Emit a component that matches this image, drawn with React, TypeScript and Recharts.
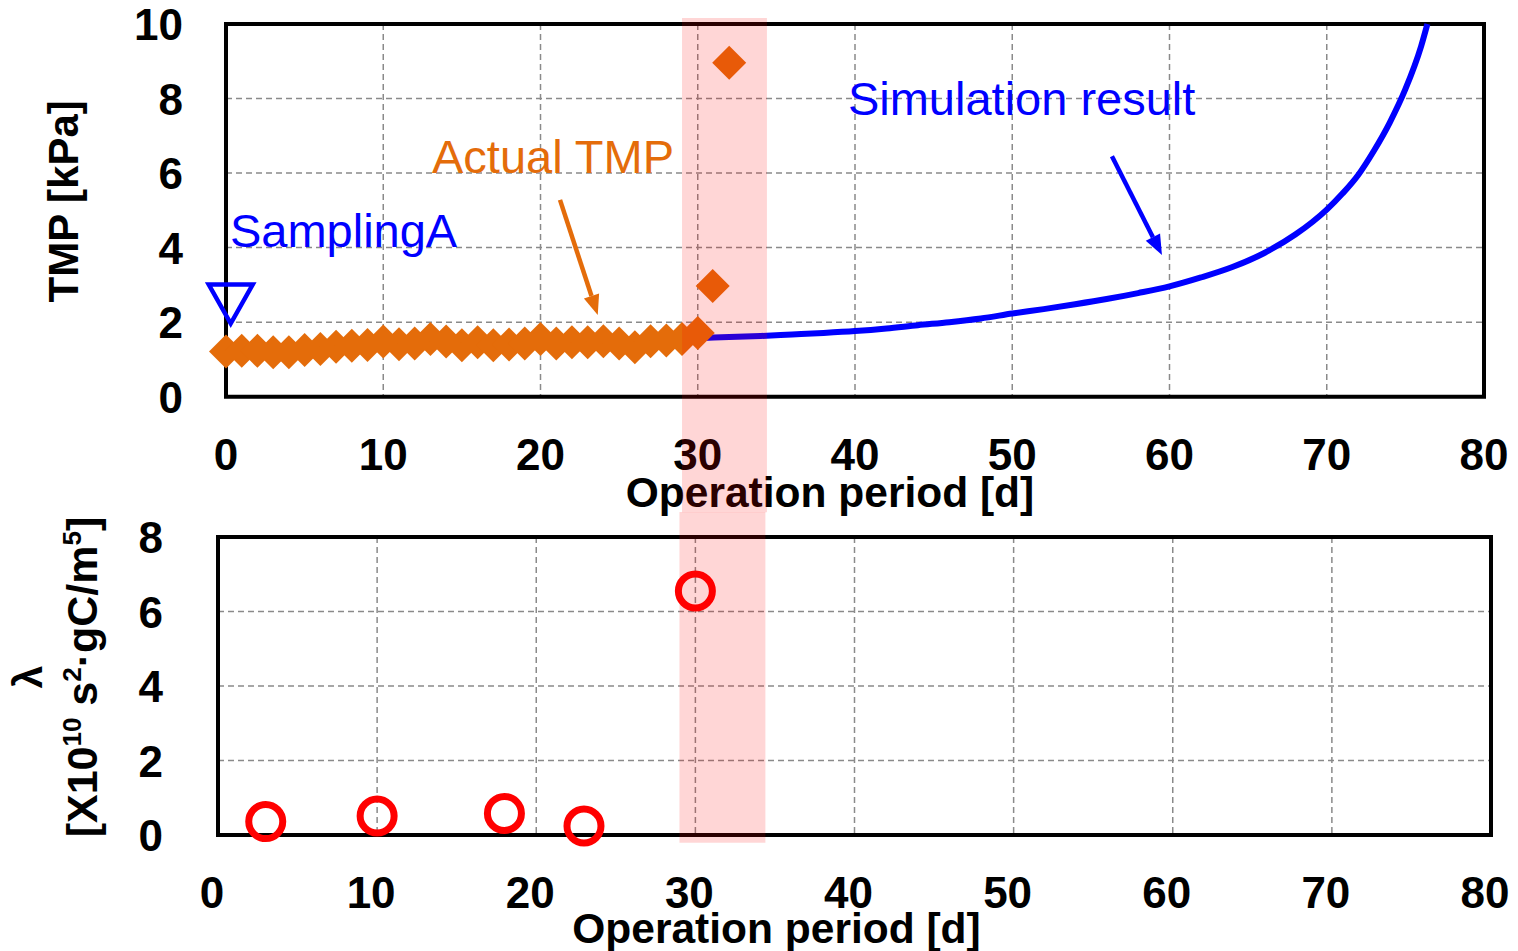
import React from 'react';
import {
  ComposedChart,
  Line,
  Scatter,
  XAxis,
  YAxis,
  CartesianGrid,
  ReferenceArea,
  ReferenceDot,
  ReferenceLine,
  Label,
} from 'recharts';

const FONT = '"Liberation Sans", Arial, sans-serif';

const TICKS_X = [0, 10, 20, 30, 40, 50, 60, 70, 80];
const TICKS_TMP = [0, 2, 4, 6, 8, 10];
const TICKS_LAMBDA = [0, 2, 4, 6, 8];

// measured TMP (orange diamonds)
const ACTUAL_DAYS = [
  0, 1, 2, 3, 4, 5, 6, 7, 8, 9, 10, 11, 12, 13, 14, 15, 16, 17, 18, 19, 20,
  21, 22, 23, 24, 25, 26, 27, 28, 29, 30, 30.95, 32,
];
const ACTUAL_TMP = [
  1.21, 1.23, 1.23, 1.19, 1.19, 1.25, 1.28, 1.34, 1.37, 1.39, 1.48, 1.41, 1.43,
  1.55, 1.48, 1.38, 1.46, 1.38, 1.4, 1.43, 1.55, 1.43, 1.46, 1.46, 1.49, 1.43,
  1.33, 1.49, 1.51, 1.55, 1.71, 2.97, 8.96,
];

// simulation curve (blue)
const SIM_DAYS = [
  30, 32, 34, 36, 38, 40, 42, 44, 46, 48, 50, 52, 54, 56, 58, 60, 62, 64, 66,
  68, 70, 71, 72, 73, 74, 75, 76, 76.4,
];
const SIM_TMP = [
  1.57, 1.6, 1.63, 1.67, 1.71, 1.76, 1.83, 1.92, 2.0, 2.1, 2.23, 2.35, 2.48,
  2.62, 2.78, 2.96, 3.2, 3.48, 3.85, 4.35, 5.02, 5.45, 5.95, 6.6, 7.35, 8.25,
  9.4, 10.0,
];

// sampling A marker
const SAMPLING_DAY = [0.3];
const SAMPLING_TMP = [2.5];

// lambda (red circles)
const LAMBDA_DAYS = [3, 10, 18, 23, 30];
const LAMBDA_VALUES = [0.36, 0.51, 0.58, 0.24, 6.55];

// highlighted period
const BAND_START = 29;
const BAND_END = 34.4;

const actualData = ACTUAL_DAYS.map((x, i) => ({ x, y: ACTUAL_TMP[i] }));
const simData = SIM_DAYS.map((x, i) => ({ x, y: SIM_TMP[i] }));
const samplingData = SAMPLING_DAY.map((x, i) => ({ x, y: SAMPLING_TMP[i] }));
const lambdaData = LAMBDA_DAYS.map((x, i) => ({ x, y: LAMBDA_VALUES[i] }));

const ORANGE = '#E46C0A';
const BLUE = '#0000FF';
const RED = '#FF0000';
const GRID = '#8a8a8a';

const Diamond = (p: any) => {
  const { cx, cy } = p;
  const r = 17;
  return (
    <polygon
      points={`${cx},${cy - r} ${cx + r},${cy} ${cx},${cy + r} ${cx - r},${cy}`}
      fill={ORANGE}
    />
  );
};

const DownTriangle = (p: any) => {
  const { cx, cy } = p;
  return (
    <polygon
      points={`${cx - 22},${cy - 19} ${cx + 22},${cy - 19} ${cx},${cy + 20}`}
      fill="none"
      stroke={BLUE}
      strokeWidth={4.5}
      strokeLinejoin="miter"
    />
  );
};

const OpenCircle = (p: any) => (
  <circle cx={p.cx} cy={p.cy} r={17} fill="none" stroke={RED} strokeWidth={7} />
);

const arrow = (color: string) => (p: any) => {
  const { x1, y1, x2, y2 } = p;
  const a = Math.atan2(y2 - y1, x2 - x1);
  const len = 20;
  const half = 8;
  const bx = x2 - len * Math.cos(a);
  const by = y2 - len * Math.sin(a);
  return (
    <g>
      <line x1={x1} y1={y1} x2={bx} y2={by} stroke={color} strokeWidth={4.5} />
      <polygon
        points={`${x2},${y2} ${bx - half * Math.sin(a)},${by + half * Math.cos(a)} ${bx + half * Math.sin(a)},${by - half * Math.cos(a)}`}
        fill={color}
      />
    </g>
  );
};

const note = (text: string, color: string) => (p: any) => (
  <text x={p.cx} y={p.cy} fill={color} fontSize={47} fontFamily={FONT}>
    {text}
  </text>
);

const xTick = (dx: number) => (p: any) => (
  <text
    x={p.x + dx}
    y={p.y + 73}
    textAnchor="middle"
    fontSize={44}
    fontWeight="bold"
    fontFamily={FONT}
    fill="#000"
  >
    {p.payload.value}
  </text>
);

const yTick = (gap: number) => (p: any) => (
  <text
    x={p.x - gap}
    y={p.y + 16}
    textAnchor="end"
    fontSize={44}
    fontWeight="bold"
    fontFamily={FONT}
    fill="#000"
  >
    {p.payload.value}
  </text>
);

const xTitle = (dx: number, dy: number) => (p: any) => {
  const vb = p.viewBox;
  return (
    <text
      x={vb.x + vb.width / 2 + dx}
      y={vb.y + dy}
      textAnchor="middle"
      fontSize={42.5}
      fontWeight="bold"
      fontFamily={FONT}
      fill="#000"
    >
      Operation period [d]
    </text>
  );
};

const TmpTitle = (p: any) => {
  const vb = p.viewBox;
  const x = vb.x + 78;
  const y = vb.y + vb.height / 2 - 9;
  return (
    <text
      x={x}
      y={y}
      transform={`rotate(-90 ${x} ${y})`}
      textAnchor="middle"
      fontSize={42}
      fontWeight="bold"
      fontFamily={FONT}
      fill="#000"
    >
      TMP [kPa]
    </text>
  );
};

const LambdaTitle = (p: any) => {
  const vb = p.viewBox;
  const cy = vb.y + vb.height / 2 - 9;
  const x1 = vb.x + 42;
  const x2 = vb.x + 97;
  return (
    <g fontFamily={FONT} fontWeight="bold" fill="#000">
      <text x={x1} y={cy} transform={`rotate(-90 ${x1} ${cy})`} textAnchor="middle" fontSize={41}>
        λ
      </text>
      <text x={x2} y={cy} transform={`rotate(-90 ${x2} ${cy})`} textAnchor="middle" fontSize={43}>
        [X10
        <tspan fontSize={26} dy={-16}>10</tspan>
        <tspan dy={16}> s</tspan>
        <tspan fontSize={26} dy={-16}>2</tspan>
        <tspan dy={16}>·gC/m</tspan>
        <tspan fontSize={26} dy={-16}>5</tspan>
        <tspan dy={16}>]</tspan>
      </text>
    </g>
  );
};

export default function App() {
  return (
    <div style={{ width: 1518, height: 951, overflow: 'hidden', background: '#fff', fontFamily: FONT }}>
      <style>{'body{margin:0} .recharts-surface{overflow:visible} .recharts-wrapper{overflow:visible}'}</style>
      <ComposedChart width={1518} height={520} margin={{ top: 24, right: 34, bottom: 0, left: 0 }}>
        <CartesianGrid stroke={GRID} strokeDasharray="6 4" strokeWidth={1.5} />
        <XAxis
          type="number"
          dataKey="x"
          domain={[0, 80]}
          ticks={TICKS_X}
          interval={0}
          height={123.3}
          axisLine={false}
          tickLine={false}
          tickSize={0}
          tickMargin={0}
          tick={xTick(0)}
        >
          <Label content={xTitle(-25, 110)} />
        </XAxis>
        <YAxis
          type="number"
          domain={[0, 10]}
          ticks={TICKS_TMP}
          interval={0}
          width={226}
          axisLine={false}
          tickLine={false}
          tickSize={0}
          tickMargin={0}
          tick={yTick(43)}
        >
          <Label content={TmpTitle} />
        </YAxis>
        <ReferenceArea x1={0} x2={80} y1={0} y2={10} fill="none" stroke="#000" strokeWidth={4} ifOverflow="visible" />
        <Line data={simData} dataKey="y" type="monotone" stroke={BLUE} strokeWidth={6} dot={false} isAnimationActive={false} />
        <Scatter data={actualData} dataKey="y" shape={Diamond} isAnimationActive={false} />
        <Scatter data={samplingData} dataKey="y" shape={DownTriangle} isAnimationActive={false} />
        <ReferenceDot x={39.55} y={7.55} r={0} shape={note('Simulation result', BLUE)} ifOverflow="visible" />
        <ReferenceDot x={13.1} y={6.0} r={0} shape={note('Actual TMP', ORANGE)} ifOverflow="visible" />
        <ReferenceDot x={0.25} y={4.02} r={0} shape={note('SamplingA', BLUE)} ifOverflow="visible" />
        <ReferenceLine segment={[{ x: 56.34, y: 6.45 }, { x: 59.52, y: 3.8 }]} shape={arrow(BLUE)} ifOverflow="visible" />
        <ReferenceLine segment={[{ x: 21.24, y: 5.28 }, { x: 23.64, y: 2.19 }]} shape={arrow(ORANGE)} ifOverflow="visible" />
        <ReferenceArea
          x1={BAND_START}
          x2={BAND_END}
          y1={-3.1}
          y2={10.16}
          fill={RED}
          fillOpacity={0.16}
          stroke="none"
          ifOverflow="visible"
          zIndex={3000}
        />
      </ComposedChart>
      <ComposedChart width={1518} height={431} margin={{ top: 17, right: 27, bottom: 0, left: 0 }}>
        <CartesianGrid stroke={GRID} strokeDasharray="6 4" strokeWidth={1.5} />
        <XAxis
          type="number"
          dataKey="x"
          domain={[0, 80]}
          ticks={TICKS_X}
          interval={0}
          height={116}
          axisLine={false}
          tickLine={false}
          tickSize={0}
          tickMargin={0}
          tick={xTick(-6)}
        >
          <Label content={xTitle(-78, 108)} />
        </XAxis>
        <YAxis
          type="number"
          domain={[0, 8]}
          ticks={TICKS_LAMBDA}
          interval={0}
          width={218}
          axisLine={false}
          tickLine={false}
          tickSize={0}
          tickMargin={0}
          tick={yTick(55)}
        >
          <Label content={LambdaTitle} />
        </YAxis>
        <ReferenceArea x1={0} x2={80} y1={0} y2={8} fill="none" stroke="#000" strokeWidth={4} ifOverflow="visible" />
        <Scatter data={lambdaData} dataKey="y" shape={OpenCircle} isAnimationActive={false} />
        <ReferenceArea
          x1={BAND_START}
          x2={BAND_END}
          y1={-0.21}
          y2={8.67}
          fill={RED}
          fillOpacity={0.16}
          stroke="none"
          ifOverflow="visible"
          zIndex={3000}
        />
      </ComposedChart>
    </div>
  );
}
